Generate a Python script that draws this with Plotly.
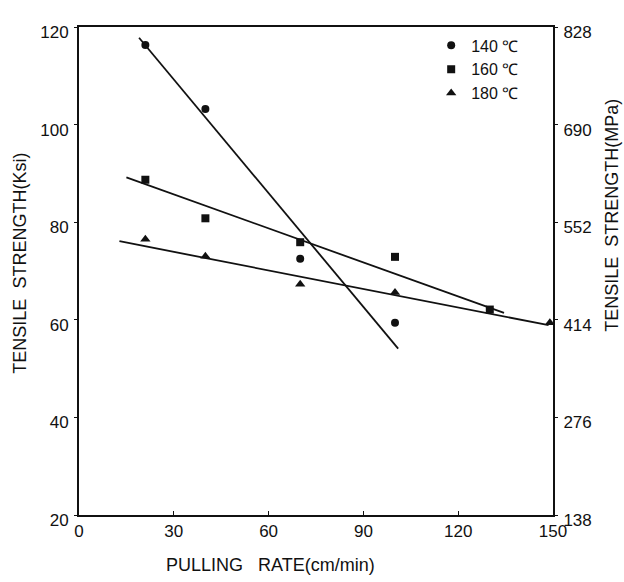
import plotly.graph_objects as go

# Pulling rate (cm/min) and tensile strength (ksi) for each drawing temperature
rate_140 = [21, 40, 70, 100]
ksi_140 = [116.3, 103.2, 72.5, 59.4]

rate_160 = [21, 40, 70, 100, 130]
ksi_160 = [88.7, 80.8, 75.9, 72.9, 62.1]

rate_180 = [21, 40, 70, 100, 149]
ksi_180 = [76.5, 73.0, 67.3, 65.6, 59.4]

# Fitted trend lines (end points)
fit_140_x = [19, 101]
fit_140_y = [117.8, 54.1]
fit_160_x = [15, 134.5]
fit_160_y = [89.2, 61.4]
fit_180_x = [12.8, 148.6]
fit_180_y = [76.1, 58.9]

x_ticks = [0, 30, 60, 90, 120, 150]
ksi_ticks = [20, 40, 60, 80, 100, 120]
mpa_ticks = [138, 276, 414, 552, 690, 828]

FONT = "Liberation Sans, Arial, sans-serif"
BLACK = "#111111"

fig = go.Figure()

for fx, fy in [(fit_140_x, fit_140_y), (fit_160_x, fit_160_y), (fit_180_x, fit_180_y)]:
    fig.add_trace(go.Scatter(x=fx, y=fy, mode="lines", showlegend=False,
                             line=dict(color=BLACK, width=1.8), hoverinfo="skip"))

series = [
    ("140 ℃", rate_140, ksi_140, "circle", 8),
    ("160 ℃", rate_160, ksi_160, "square", 8),
    ("180 ℃", rate_180, ksi_180, "triangle-up", 9),
]
for name, xs, ys, sym, size in series:
    fig.add_trace(go.Scatter(x=xs, y=ys, mode="markers", name=name,
                             marker=dict(symbol=sym, size=size, color=BLACK,
                                         line=dict(width=0))))

# Invisible trace anchoring the MPa axis
fig.add_trace(go.Scatter(x=[0], y=[138], yaxis="y2", mode="markers",
                         marker=dict(opacity=0), showlegend=False, hoverinfo="skip"))

axis_common = dict(showgrid=False, zeroline=False, showline=True,
                   linecolor=BLACK, linewidth=2, automargin=False,
                   tickfont=dict(family=FONT, size=17, color=BLACK),
                   tickcolor=BLACK)

title_font = dict(family=FONT, size=18, color=BLACK)

fig.update_layout(
    width=624, height=582,
    margin=dict(l=79, r=71, t=27, b=67),
    paper_bgcolor="white", plot_bgcolor="white",
    font=dict(family=FONT, color=BLACK),
    xaxis=dict(range=[0, 150], tickvals=x_ticks, ticks="inside", ticklen=4,
               mirror=True, **axis_common),
    yaxis=dict(range=[20, 120], tickvals=ksi_ticks, ticks="outside", ticklen=3,
               ticklabelshift=5, ticklabelstandoff=2, **axis_common),
    yaxis2=dict(range=[138, 828], tickvals=mpa_ticks, overlaying="y", side="right",
                ticks="outside", ticklen=3, ticklabelshift=5, ticklabelstandoff=2,
                **axis_common),
    legend=dict(x=0.743, y=0.997, xanchor="left", yanchor="top",
                bgcolor="rgba(0,0,0,0)", borderwidth=0,
                font=dict(family=FONT, size=16, color=BLACK),
                itemwidth=30, tracegroupgap=0),
    showlegend=True,
    annotations=[
        dict(text="PULLING   RATE(cm/min)", xref="paper", yref="paper",
             x=0.403, y=-0.1034, xanchor="center", yanchor="middle",
             showarrow=False, font=title_font),
        dict(text="TENSILE  STRENGTH(Ksi)", xref="paper", yref="paper",
             x=-0.1246, y=0.517, xanchor="center", yanchor="middle",
             textangle=-90, showarrow=False, font=title_font),
        dict(text="TENSILE  STRENGTH(MPa)", xref="paper", yref="paper",
             x=1.1245, y=0.613, xanchor="center", yanchor="middle",
             textangle=-90, showarrow=False, font=title_font),
    ],
)

fig.write_html("out.html")
